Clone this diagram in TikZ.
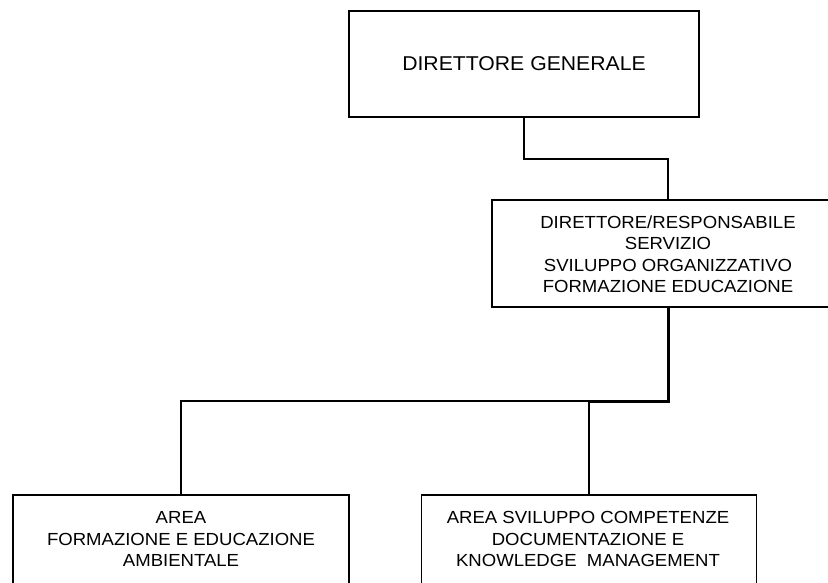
\documentclass[tikz,border=0pt]{standalone}
\usepackage{fontspec}
\setmainfont{Liberation Sans}[FakeStretch=1.06]
\begin{document}
\begin{tikzpicture}[x=1pt,y=-1pt,
  unitbox/.style={draw=black,line width=1.4pt,fill=white,inner sep=0pt,
    minimum width=#1},
  boxtext/.style={align=center,inner sep=0pt,font=\fontsize{17.5}{21.5}\selectfont},
  conn/.style={draw=black,line width=1.3pt},
  mainconn/.style={draw=black,line width=3pt}]
  \useasboundingbox (0,0) rectangle (828,583);
  \clip (0,0) rectangle (828,583);

  % director general
  \node[unitbox=350pt,minimum height=106pt,font=\fontsize{20}{24}\selectfont]
    (dg) at (524,64) {DIRETTORE GENERALE};

  % service head
  \node[unitbox=352pt,minimum height=107pt] (svc) at (668,253.5) {};
  \node[boxtext] (svct) at (668,254)
    {DIRETTORE/RESPONSABILE\\SERVIZIO\\SVILUPPO ORGANIZZATIVO\\FORMAZIONE EDUCAZIONE};

  % areas
  \node[unitbox=336pt,minimum height=140pt] (area1) at (181,565) {};
  \node[boxtext] (area1t) at (181,539)
    {AREA\\FORMAZIONE E EDUCAZIONE\\AMBIENTALE};
  \node[unitbox=335pt,minimum height=140pt] (area2) at (589,565) {};
  \node[boxtext] (area2t) at (588,539)
    {AREA SVILUPPO COMPETENZE\\DOCUMENTAZIONE E\\KNOWLEDGE\ \ MANAGEMENT};

  % connector levels
  \coordinate (lvl1) at (0,159);
  \coordinate (lvl2) at (0,401);

  % connectors
  \draw[conn] (dg.south) -- (dg.south |- lvl1) -| (svc.north);
  \draw[conn] (area1.north) |- (area2.north |- lvl2) -- (area2.north);
  \draw[mainconn] (svc.south) |- ([xshift=-0.65pt]area2.north |- lvl2);
\end{tikzpicture}
\end{document}
